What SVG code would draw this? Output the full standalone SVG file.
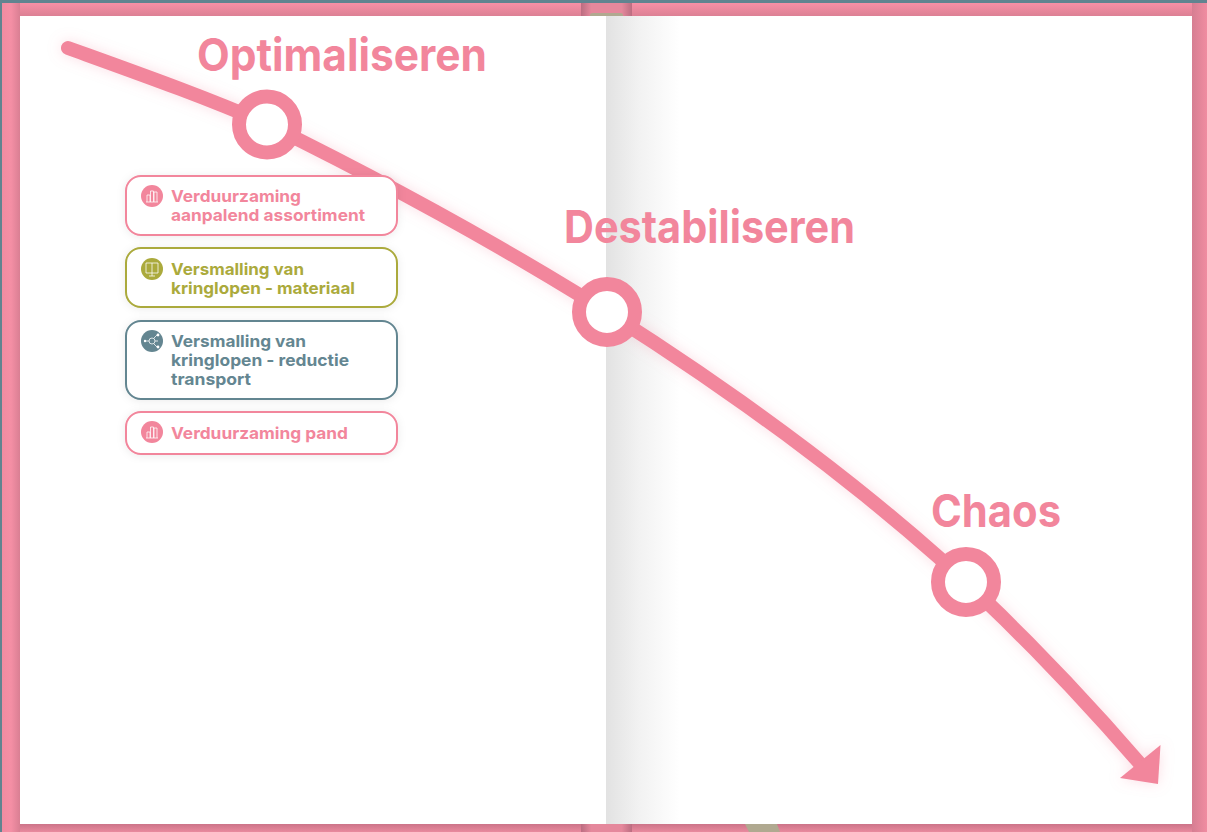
<svg xmlns="http://www.w3.org/2000/svg" width="1207" height="832" viewBox="0 0 1207 832">
<style>
.big{font:700 45px Inter,"Liberation Sans",sans-serif;fill:#f2869c}
.lab{font:700 16.5px Inter,"Liberation Sans",sans-serif}
.box{fill:#fff;stroke-width:2;filter:url(#soft)}
.ring{fill:#fff;stroke:#f2869c;stroke-width:14}
.pink{fill:#f2869c}.pinkS{stroke:#f2869c}
.olive{fill:#abaa3c}.oliveS{stroke:#abaa3c}
.teal{fill:#648691}.tealS{stroke:#648691}
.ic{fill:none;stroke:#fff;stroke-width:.9;opacity:.85}
</style>
<defs>
<linearGradient id="top" x1="0" y1="0" x2="0" y2="1"><stop offset="0" stop-color="#f790a6"/><stop offset="1" stop-color="#dc8094"/></linearGradient>
<linearGradient id="bot" x1="0" y1="0" x2="0" y2="1"><stop offset="0" stop-color="#cc7489"/><stop offset="1" stop-color="#e98a9e"/></linearGradient>
<linearGradient id="left" x1="0" y1="0" x2="1" y2="0"><stop offset="0" stop-color="#f18ca1"/><stop offset=".5" stop-color="#f48fa5"/><stop offset="1" stop-color="#d97f93"/></linearGradient>
<linearGradient id="right" x1="0" y1="0" x2="1" y2="0"><stop offset="0" stop-color="#d67e92"/><stop offset="1" stop-color="#f08ca1"/></linearGradient>
<linearGradient id="spine" x1="0" y1="0" x2="1" y2="0"><stop offset="0" stop-color="#bb6d81"/><stop offset=".2" stop-color="#e5889c"/><stop offset=".8" stop-color="#e5889c"/><stop offset="1" stop-color="#bb6d81"/></linearGradient>
<linearGradient id="shade" x1="0" y1="0" x2="1" y2="0"><stop offset="0" stop-color="#e2e2e2"/><stop offset=".45" stop-color="#f2f2f2"/><stop offset="1" stop-color="#fff"/></linearGradient>
<filter id="glow" x="-10%" y="-10%" width="120%" height="120%"><feDropShadow dx="0" dy="0" stdDeviation="7" flood-color="#f2869c" flood-opacity=".28"/></filter>
<filter id="soft" x="-10%" y="-20%" width="120%" height="140%"><feDropShadow dx="0" dy="1" stdDeviation="4" flood-color="#000" flood-opacity=".08"/></filter>
</defs>

<g id="book">
<rect width="1207" height="832" fill="#f48fa5"/>
<rect width="1207" height="3" fill="#608490"/>
<rect width="2" height="832" fill="#608490"/>
<rect x="2" y="3" width="1205" height="13" fill="url(#top)"/>
<rect x="2" y="824" width="1205" height="8" fill="url(#bot)"/>
<rect x="2" y="3" width="18" height="829" fill="url(#left)"/>
<rect x="1192" y="3" width="15" height="829" fill="url(#right)"/>
<rect x="581" y="3" width="51" height="13" fill="url(#spine)"/>
<rect x="581" y="824" width="51" height="8" fill="url(#spine)"/>
<path d="M590 16V15Q590 13 593 13H620Q623 13 623 15V16Z" fill="#b0a990"/>
<path d="M745 824H777L780 832H749Z" fill="#b0a990"/>
<rect x="20" y="16" width="1172" height="808" fill="#fff"/>
<rect x="606" y="16" width="74" height="808" fill="url(#shade)"/>
</g>

<g id="connectors" filter="url(#glow)">
<path d="M68 48C140 74 205 97 267 124C385 182 500 245 607 312C730 390 855 480 966 582C1030 642 1085 700 1142 766" fill="none" stroke="#f2869c" stroke-width="14" stroke-linecap="round"/>
<polygon points="1160.5,745 1158,784 1120,778" fill="#f2869c"/>
</g>

<g id="node-optimaliseren">
<circle class="ring" cx="267" cy="124.500" r="28"/>
<text class="big" x="197" y="71" textLength="290" lengthAdjust="spacingAndGlyphs">Optimaliseren</text>
</g>
<g id="node-destabiliseren">
<circle class="ring" cx="607" cy="312" r="28"/>
<text class="big" x="564" y="243" textLength="291" lengthAdjust="spacingAndGlyphs">Destabiliseren</text>
</g>
<g id="node-chaos">
<circle class="ring" cx="966" cy="582" r="28"/>
<text class="big" x="931" y="527" textLength="130" lengthAdjust="spacingAndGlyphs">Chaos</text>
</g>

<g id="box-assortiment">
<rect class="box pinkS" x="126" y="176" width="271" height="59" rx="15"/>
<circle class="pink" cx="152" cy="196" r="11"/>
<path class="ic" d="M146 202h12M147 202v-7h3v7M150.500 202v-11h3v11M154 202v-10h3v10"/>
<text class="lab pink" x="171" y="202" textLength="130" lengthAdjust="spacingAndGlyphs">Verduurzaming</text>
<text class="lab pink" x="171" y="221" textLength="194" lengthAdjust="spacingAndGlyphs">aanpalend assortiment</text>
</g>
<g id="box-materiaal">
<rect class="box oliveS" x="126" y="248" width="271" height="59" rx="15"/>
<circle class="olive" cx="152" cy="269" r="11"/>
<path class="ic" d="M146 263h12v10h-12ZM152 263v10M149 276h6M152 273v3"/>
<text class="lab olive" x="171" y="275" textLength="133" lengthAdjust="spacingAndGlyphs">Versmalling van</text>
<text class="lab olive" x="171" y="294" textLength="184" lengthAdjust="spacingAndGlyphs">kringlopen - materiaal</text>
</g>
<g id="box-transport">
<rect class="box tealS" x="126" y="321" width="271" height="78" rx="15"/>
<circle class="teal" cx="152" cy="341" r="11"/>
<path class="ic" d="M145 341h4M154 338l3-3M154 344l3 3M155 341h3"/>
<circle class="ic" cx="152" cy="341" r="3"/>
<circle cx="145" cy="341" r="1.200" fill="#fff"/><circle cx="158" cy="335" r="1.400" fill="#fff"/><circle cx="158" cy="347" r="1.400" fill="#fff"/>
<text class="lab teal" x="171" y="347" textLength="135" lengthAdjust="spacingAndGlyphs">Versmalling van</text>
<text class="lab teal" x="171" y="366" textLength="178" lengthAdjust="spacingAndGlyphs">kringlopen - reductie</text>
<text class="lab teal" x="171" y="385" textLength="80" lengthAdjust="spacingAndGlyphs">transport</text>
</g>
<g id="box-pand">
<rect class="box pinkS" x="126" y="412" width="271" height="42" rx="15"/>
<circle class="pink" cx="152" cy="432" r="11"/>
<path class="ic" d="M146 438h12M147 438v-6h3v6M150.500 438v-11h3v11M154 438v-10h3v10"/>
<text class="lab pink" x="171" y="439" textLength="177" lengthAdjust="spacingAndGlyphs">Verduurzaming pand</text>
</g>
</svg>
